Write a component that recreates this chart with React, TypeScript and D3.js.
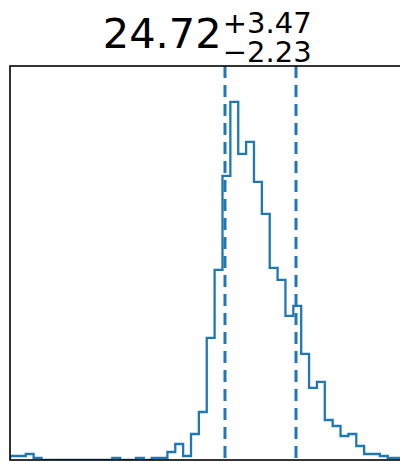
import React from "react";
import * as d3 from "d3";

// Posterior samples binned into 50 equal-width bins over the parameter range
const binRange = [5.23, 36.82];
const binCounts = [
  2, 2, 3, 1, 0, 0, 0, 0, 0, 0,
  0, 0, 0, 1, 0, 0, 1, 0, 1, 1,
  4, 8, 2, 13, 24, 61, 95, 142, 179, 153,
  159, 139, 123, 96, 90, 72, 77, 53, 36, 39,
  20, 17, 12, 13, 7, 3, 3, 2, 1, 1,
];
// 16th, 50th and 84th percentiles
const quantiles = [22.49, 24.72, 28.19];

const W = 400;
const H = 462;
const margin = { left: 10, top: 66, right: 403.5, bottom: 460 };
const blue = "#1f77b4";
const font = "'DejaVu Sans', sans-serif";

export default function App() {
  const x = d3.scaleLinear().domain(binRange).range([margin.left, margin.right]);
  const yMax = (d3.max(binCounts) as number) * 1.1;
  const y = d3.scaleLinear().domain([0, yMax]).range([margin.bottom, margin.top]);

  const n = binCounts.length;
  const step = (binRange[1] - binRange[0]) / n;
  const edges = d3.range(n + 1).map((i) => binRange[0] + i * step);

  // step outline: rise at first edge, flat across each bin, drop at last edge
  const pts: [number, number][] = [[edges[0], 0]];
  binCounts.forEach((c, i) => {
    pts.push([edges[i], c]);
    pts.push([edges[i + 1], c]);
  });
  pts.push([edges[n], 0]);
  const line = d3
    .line<[number, number]>()
    .x((d) => x(d[0]))
    .y((d) => y(d[1]));

  const [q16, q50, q84] = quantiles;
  const mainLabel = q50.toFixed(2);
  const upLabel = "+" + (q84 - q50).toFixed(2);
  const downLabel = "\u2212" + (q50 - q16).toFixed(2);
  const cx = (margin.left + margin.right) / 2;

  return (
    <svg
      width={W}
      height={H}
      style={{ position: "fixed", left: 0, top: 0, background: "#fff" }}
    >
      <defs>
        <clipPath id="axclip">
          <rect
            x={margin.left}
            y={margin.top}
            width={margin.right - margin.left}
            height={margin.bottom - margin.top}
          />
        </clipPath>
      </defs>
      <rect width={W} height={H} fill="#fff" />
      <g clipPath="url(#axclip)">
        <path
          d={line(pts) || ""}
          fill="none"
          stroke={blue}
          strokeWidth={2.3}
          strokeLinejoin="miter"
        />
        {[q16, q84].map((q, i) => (
          <line
            key={i}
            x1={x(q)}
            x2={x(q)}
            y1={margin.top}
            y2={margin.bottom}
            stroke={blue}
            strokeWidth={3}
            strokeDasharray="12 7"
          />
        ))}
      </g>
      <rect
        x={margin.left}
        y={margin.top}
        width={margin.right - margin.left}
        height={margin.bottom - margin.top}
        fill="none"
        stroke="#000"
        strokeWidth={1.6}
      />
      <g fontFamily={font} fill="#000">
        <text x={cx - 104} y={48} fontSize={41.5}>
          {mainLabel}
        </text>
        <text x={cx + 16} y={33} fontSize={29}>
          {upLabel}
        </text>
        <text x={cx + 16} y={61.5} fontSize={29}>
          {downLabel}
        </text>
      </g>
    </svg>
  );
}
